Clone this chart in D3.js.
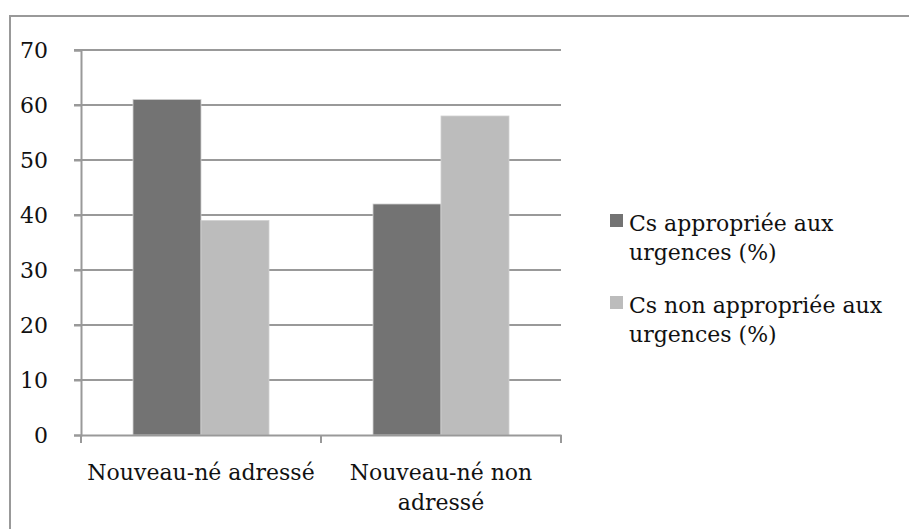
<!DOCTYPE html>
<html>
<head>
<meta charset="utf-8">
<script src="https://cdn.jsdelivr.net/npm/d3@7"></script>
<style>
  body { margin: 0; background: #fff; }
</style>
</head>
<body>
<div id="chart"></div>
<script>
var categories = ["Nouveau-né adressé", "Nouveau-né non adressé"];
var seriesNames = ["Cs appropriée aux urgences (%)", "Cs non appropriée aux urgences (%)"];
var seriesColors = ["#737373", "#bcbcbc"];
var appropriee = [61, 42];
var nonAppropriee = [39, 58];
var yTicks = [0, 10, 20, 30, 40, 50, 60, 70];

var W = 909, H = 529;
var FONT = "'DejaVu Serif', serif";
var FS = 22;
var svg = d3.select("#chart").append("svg").attr("width", W).attr("height", H);

// outer frame (only top and left visible in the picture)
svg.append("path")
    .attr("d", "M10,529 V16 H909")
    .attr("fill", "none").attr("stroke", "#999").attr("stroke-width", 2);

var x0 = d3.scaleBand().domain(categories).range([81, 561]);
var x1 = d3.scaleBand().domain([0, 1]).range([0, x0.bandwidth()]).paddingInner(0).paddingOuter(0.765);
var y = d3.scaleLinear().domain([0, 70]).range([435, 50]);

// gridlines
svg.append("g").selectAll("line").data(yTicks.slice(1)).enter().append("line")
    .attr("x1", 74).attr("x2", 561)
    .attr("y1", function (d) { return y(d); }).attr("y2", function (d) { return y(d); })
    .attr("stroke", "#999").attr("stroke-width", 2);

// bars
var data = categories.map(function (c, i) { return { cat: c, vals: [appropriee[i], nonAppropriee[i]] }; });
var groups = svg.selectAll(".grp").data(data).enter().append("g")
    .attr("transform", function (d) { return "translate(" + x0(d.cat) + ",0)"; });
groups.selectAll("rect").data(function (d) { return d.vals; }).enter().append("rect")
    .attr("x", function (d, j) { return x1(j); })
    .attr("width", x1.bandwidth())
    .attr("y", function (d) { return y(d); })
    .attr("height", function (d) { return y(0) - y(d); })
    .attr("fill", function (d, j) { return seriesColors[j]; })
    .attr("stroke", "#d0d0d0").attr("stroke-width", 0.8);

// y axis
var yAxis = svg.append("g").attr("transform", "translate(81,0)")
    .call(d3.axisLeft(y).tickValues(yTicks).tickSize(7).tickPadding(26));
yAxis.attr("font-family", FONT).attr("font-size", FS);
yAxis.select(".domain").attr("stroke", "#999").attr("stroke-width", 2);
yAxis.selectAll(".tick line").attr("stroke", "#999").attr("stroke-width", 2);
yAxis.selectAll("text").attr("fill", "#111").attr("dy", "0.36em");

// x axis
var xAxis = svg.append("g").attr("transform", "translate(0,435)")
    .call(d3.axisBottom(x0).tickSize(0).tickFormat(""));
xAxis.select(".domain").attr("stroke", "#999").attr("stroke-width", 2);
xAxis.selectAll(".tick").remove();
var xEdges = [81, 321, 561];
xAxis.selectAll(".edge").data(xEdges).enter().append("line")
    .attr("x1", function (d) { return d; }).attr("x2", function (d) { return d; })
    .attr("y1", 0).attr("y2", 8)
    .attr("stroke", "#999").attr("stroke-width", 2);

var xLabelLines = [["Nouveau-né adressé"], ["Nouveau-né non", "adressé"]];
categories.forEach(function (c, i) {
    var cx = x0(c) + x0.bandwidth() / 2;
    var t = svg.append("text")
        .attr("x", cx).attr("y", 480)
        .attr("text-anchor", "middle")
        .attr("font-family", FONT).attr("font-size", FS).attr("fill", "#111");
    xLabelLines[i].forEach(function (ln, k) {
        t.append("tspan").attr("x", cx).attr("dy", k === 0 ? 0 : 30).text(ln);
    });
});

// legend
var legendLines = [["Cs appropriée aux", "urgences (%)"], ["Cs non appropriée aux", "urgences (%)"]];
var legendY = [231, 313];
legendLines.forEach(function (lines, i) {
    svg.append("rect")
        .attr("x", 610).attr("y", legendY[i] - 17)
        .attr("width", 13).attr("height", 13)
        .attr("fill", seriesColors[i]);
    var t = svg.append("text").attr("x", 629).attr("y", legendY[i])
        .attr("font-family", FONT).attr("font-size", FS).attr("fill", "#111");
    lines.forEach(function (ln, k) {
        t.append("tspan").attr("x", 629).attr("dy", k === 0 ? 0 : 29).text(ln);
    });
});
</script>
</body>
</html>
